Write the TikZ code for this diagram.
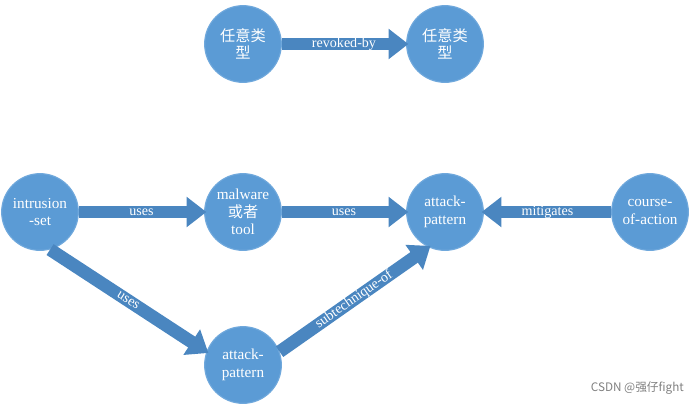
\documentclass[tikz,border=0pt]{standalone}
\usepackage{fontspec}
\setmainfont{Liberation Serif}
\newfontfamily\cjk{Noto Sans CJK SC}
\usetikzlibrary{arrows.meta}
\tikzset{obj/.style={circle,fill=blueA,draw=blueB,line width=1pt,minimum size=2.3cm,inner sep=0pt,
    text=white,align=center,font=\fontsize{13}{15}\selectfont},
  rel/.style={draw=blueC,line width=11pt,-{Triangle[width=25pt,length=17pt]},shorten >=-2pt},
  lbl/.style={text=white,font=\fontsize{12}{13}\selectfont,inner sep=1pt}}
\definecolor{blueA}{HTML}{5B9BD5}
\definecolor{blueB}{HTML}{6FA8DC}
\definecolor{blueC}{HTML}{4A86C0}
\begin{document}
\begin{tikzpicture}[x=0.03cm,y=-0.03cm]
\useasboundingbox (0,0) rectangle (692,409);
\node[obj] (any1) at (243,44) {{\cjk 任意类}\\{\cjk 型}};
\node[obj] (any2) at (445,44) {{\cjk 任意类}\\{\cjk 型}};
\node[obj] (intrusion) at (40,212) {intrusion\\-set};
\node[obj] (malware) at (243,212) {malware\\{\cjk 或者}\\tool};
\node[obj] (attack) at (445,212) {attack-\\pattern};
\node[obj] (course) at (650,212) {course-\\of-action};
\node[obj] (subattack) at (243,365) {attack-\\pattern};

\draw[rel] (any1) -- node[lbl] {revoked-by} (any2);
\draw[rel] (intrusion) -- node[lbl] {uses} (malware);
\draw[rel] (malware) -- node[lbl] {uses} (attack);
\draw[rel] (course) -- node[lbl] {mitigates} (attack);
\draw[rel] (intrusion.-75) -- node[lbl,sloped] {uses} (subattack.160);
\draw[rel] (subattack.20) -- node[lbl,sloped] {subtechnique-of} (attack.-115);

\node[text=gray,font=\cjk\fontsize{10}{12}\selectfont,anchor=east] (mark) at (688,388) {CSDN @强仔fight};
\end{tikzpicture}
\end{document}
